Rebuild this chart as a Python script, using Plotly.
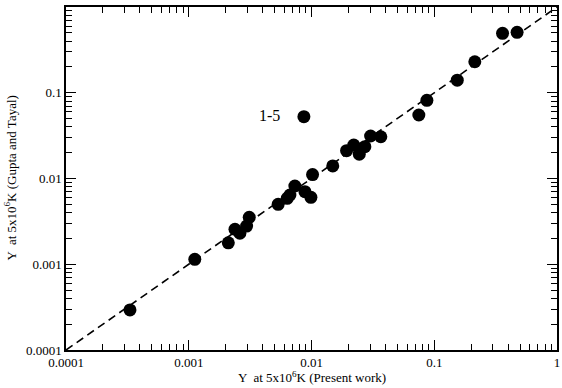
import math
import plotly.graph_objects as go

present = [3.32e-4, 1.12e-3, 2.10e-3, 2.38e-3, 2.61e-3, 2.96e-3, 3.11e-3, 5.35e-3, 6.34e-3,
           6.67e-3, 7.32e-3, 8.84e-3, 9.89e-3, 1.02e-2, 1.49e-2, 1.93e-2, 2.21e-2, 2.45e-2,
           2.72e-2, 3.03e-2, 3.67e-2, 8.67e-3, 7.49e-2, 8.71e-2, 0.154, 0.214, 0.360, 0.473]
gupta = [2.93e-4, 1.14e-3, 1.78e-3, 2.56e-3, 2.30e-3, 2.79e-3, 3.53e-3, 5.00e-3, 5.87e-3,
         6.42e-3, 8.18e-3, 7.02e-3, 6.03e-3, 1.11e-2, 1.40e-2, 2.11e-2, 2.46e-2, 1.92e-2,
         2.35e-2, 3.13e-2, 3.07e-2, 5.26e-2, 5.50e-2, 8.17e-2, 0.140, 0.230, 0.493, 0.507]
line_vals = [1e-4, 1]
tick_vals = [1e-4, 1e-3, 1e-2, 1e-1, 1]
tick_text = ["0.0001", "0.001", "0.01", "0.1", "1"]
label_text = "1-5"
label_x, label_y = 8.67e-3, 5.26e-2

font = dict(family="Liberation Serif, Times New Roman, serif", color="black", size=13)

fig = go.Figure()
fig.add_trace(go.Scatter(x=line_vals, y=line_vals, mode="lines",
                         line=dict(color="black", width=1.6, dash="8px,5px"),
                         showlegend=False, hoverinfo="skip"))
fig.add_trace(go.Scatter(x=present, y=gupta, mode="markers",
                         marker=dict(color="black", size=13, line=dict(width=0)),
                         showlegend=False))

fig.add_annotation(x=math.log10(label_x), y=math.log10(label_y), xref="x", yref="y",
                   text=label_text, showarrow=False, xshift=-34, yshift=1,
                   font=dict(family=font["family"], size=16, color="black"))

fig.add_annotation(x=0.5, y=0, xref="paper", yref="paper", yshift=-37,
                   text="Y  at 5x10<sup>6</sup>K (Present work)", showarrow=False,
                   xanchor="center", yanchor="bottom", font=font)
fig.add_annotation(x=0, y=0.5, xref="paper", yref="paper", xshift=-66,
                   text="Y  at 5x10<sup>6</sup>K (Gupta and Tayal)", showarrow=False,
                   textangle=-90, xanchor="left", yanchor="middle", font=font)

axis_common = dict(
    type="log", range=[-4, 0], showgrid=False, zeroline=False, automargin=False,
    showline=True, linecolor="black", linewidth=1.5, mirror="ticks",
    ticks="inside", ticklen=10, tickwidth=1, tickcolor="black",
    tickvals=tick_vals, ticktext=tick_text, tickfont=font,
    minor=dict(ticks="inside", ticklen=6, tickwidth=1, tickcolor="black",
               dtick="D1", showgrid=False),
)

fig.update_layout(
    width=562, height=388,
    margin=dict(l=66, r=5, t=7, b=38),
    paper_bgcolor="white", plot_bgcolor="white",
    font=font,
    xaxis=dict(**axis_common),
    yaxis=dict(**axis_common),
)

fig.write_html("out.html", config={"displayModeBar": False},
               post_script="document.body.style.margin='0';document.body.style.overflow='hidden';")
